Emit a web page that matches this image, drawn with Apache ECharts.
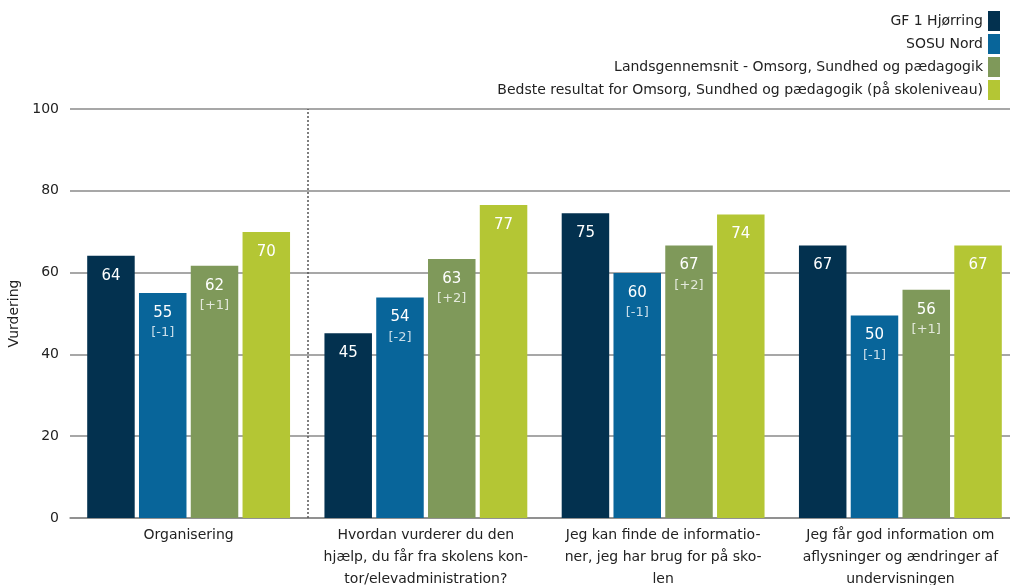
<!DOCTYPE html>
<html>
<head>
<meta charset="utf-8">
<script src="https://cdn.jsdelivr.net/npm/echarts@6/dist/echarts.min.js"></script>
<style>
  html, body { margin: 0; padding: 0; background: #fff; overflow: hidden; }
  #chart { width: 1010px; height: 585px; }
</style>
</head>
<body>
<div id="chart"></div>
<script>
// kategorier (linjeskift som i originalen)
const categories = [
  'Organisering',
  'Hvordan vurderer du den\nhjælp, du får fra skolens kon-\ntor/elevadministration?',
  'Jeg kan finde de informatio-\nner, jeg har brug for på sko-\nlen',
  'Jeg får god information om\naflysninger og ændringer af\nundervisningen'
]

const seriesNames = [
  'GF 1 Hjørring',
  'SOSU Nord',
  'Landsgennemsnit - Omsorg, Sundhed og pædagogik',
  'Bedste resultat for Omsorg, Sundhed og pædagogik (på skoleniveau)'
]

const gfValues = [64.1, 45.2, 74.5, 66.6]
const sosuValues = [55.0, 53.9, 59.9, 49.5]
const landsValues = [61.7, 63.3, 66.6, 55.8]
const bedsteValues = [69.9, 76.5, 74.2, 66.6]

// ændring ift. sidste måling
const sosuDiff = ['[-1]', '[-2]', '[-1]', '[-1]']
const landsDiff = ['[+1]', '[+2]', '[+2]', '[+1]']

const yTicks = [0, 20, 40, 60, 80, 100]

const colors = ['#03314f', '#08659a', '#7f995a', '#b4c634']

const fontFamily = 'DejaVu Sans'

const makeLabel = (diffs) => ({
  show: true,
  position: 'insideTop',
  distance: 9,
  formatter: (p) => {
    const v = Math.round(p.value)
    return diffs ? `{v|${v}}\n{d|${diffs[p.dataIndex]}}` : `{v|${v}}`
  },
  rich: {
    v: { color: '#fff', fontSize: 15, lineHeight: 22, fontFamily },
    d: { color: 'rgba(255,255,255,0.78)', fontSize: 13, lineHeight: 18, fontFamily }
  }
})

const barBase = {
  type: 'bar',
  barGap: '9%',
  barCategoryGap: '14.5%'
}

const chart = echarts.init(document.getElementById('chart'), null, { renderer: 'canvas' })

const option = {
  animation: false,
  textStyle: { fontFamily },
  color: colors,
  legend: {
    orient: 'vertical',
    align: 'right',
    right: 5,
    top: 6,
    itemWidth: 12,
    itemHeight: 20,
    itemGap: 3,
    icon: 'rect',
    textStyle: { fontSize: 14, color: '#222', fontFamily },
    data: seriesNames
  },
  grid: {
    left: 70,
    width: 949,
    top: 109,
    bottom: 67,
    outerBoundsMode: 'none'
  },
  xAxis: [
    {
      type: 'category',
      data: categories,
      axisLine: { show: true, lineStyle: { color: '#8a8a8a', width: 1.5 } },
      axisTick: { show: false },
      axisLabel: {
        interval: 0,
        color: '#222',
        fontSize: 14,
        lineHeight: 22,
        margin: 6,
        fontFamily
      },
      splitLine: { show: false }
    },
    {
      // skjult hjælpeakse til den stiplede skillelinje
      type: 'value',
      min: 0,
      max: categories.length,
      show: false
    }
  ],
  yAxis: {
    type: 'value',
    min: yTicks[0],
    max: yTicks[yTicks.length - 1],
    interval: 20,
    name: 'Vurdering',
    nameLocation: 'middle',
    nameGap: 36,
    nameTextStyle: { color: '#222', fontSize: 14, fontFamily },
    axisLine: { show: false },
    axisTick: { show: false },
    axisLabel: { color: '#222', fontSize: 14, margin: 11, fontFamily },
    splitLine: { lineStyle: { color: '#8a8a8a', width: 1.5 } }
  },
  series: [
    { ...barBase, name: seriesNames[0], data: gfValues, label: makeLabel(null) },
    { ...barBase, name: seriesNames[1], data: sosuValues, label: makeLabel(sosuDiff) },
    { ...barBase, name: seriesNames[2], data: landsValues, label: makeLabel(landsDiff) },
    { ...barBase, name: seriesNames[3], data: bedsteValues, label: makeLabel(null) },
    {
      type: 'line',
      xAxisIndex: 1,
      data: [],
      silent: true,
      markLine: {
        silent: true,
        symbol: 'none',
        label: { show: false },
        lineStyle: { type: [2, 2], color: '#555', width: 1.5 },
        data: [{ xAxis: 1 }]
      }
    }
  ]
}

chart.setOption(option)

window.addEventListener('resize', () => chart.resize())
</script>
</body>
</html>
